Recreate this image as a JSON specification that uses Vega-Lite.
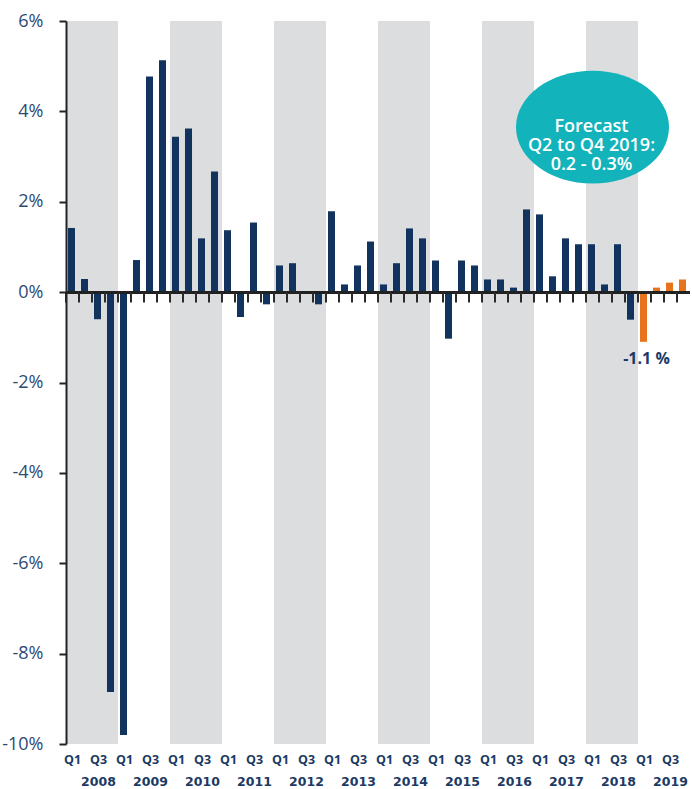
{
  "$schema": "https://vega.github.io/schema/vega-lite/v6.json",
  "width": 624,
  "height": 723,
  "autosize": {"type": "none"},
  "padding": {"left": 66, "top": 21, "right": 2, "bottom": 45},
  "background": "white",
  "config": {
    "view": {"stroke": null},
    "font": "Open Sans",
    "axisX": {"domain": false, "ticks": false, "tickSize": 0, "labelAngle": 0, "labelFontWeight": "bold", "labelFontSize": 12.5, "labelColor": "#1d3a63", "labelOverlap": false, "grid": false, "labelBound": false},
    "axisY": {"grid": false}
  },
  "data": {
    "values": [
      {"q": "2008 Q1", "year": 2008, "v": 1.42, "period": "2008-2018"},
      {"q": "2008 Q2", "year": 2008, "v": 0.29, "period": "2008-2018"},
      {"q": "2008 Q3", "year": 2008, "v": -0.6, "period": "2008-2018"},
      {"q": "2008 Q4", "year": 2008, "v": -8.85, "period": "2008-2018"},
      {"q": "2009 Q1", "year": 2009, "v": -9.8, "period": "2008-2018"},
      {"q": "2009 Q2", "year": 2009, "v": 0.71, "period": "2008-2018"},
      {"q": "2009 Q3", "year": 2009, "v": 4.77, "period": "2008-2018"},
      {"q": "2009 Q4", "year": 2009, "v": 5.13, "period": "2008-2018"},
      {"q": "2010 Q1", "year": 2010, "v": 3.44, "period": "2008-2018"},
      {"q": "2010 Q2", "year": 2010, "v": 3.62, "period": "2008-2018"},
      {"q": "2010 Q3", "year": 2010, "v": 1.19, "period": "2008-2018"},
      {"q": "2010 Q4", "year": 2010, "v": 2.67, "period": "2008-2018"},
      {"q": "2011 Q1", "year": 2011, "v": 1.37, "period": "2008-2018"},
      {"q": "2011 Q2", "year": 2011, "v": -0.55, "period": "2008-2018"},
      {"q": "2011 Q3", "year": 2011, "v": 1.54, "period": "2008-2018"},
      {"q": "2011 Q4", "year": 2011, "v": -0.27, "period": "2008-2018"},
      {"q": "2012 Q1", "year": 2012, "v": 0.59, "period": "2008-2018"},
      {"q": "2012 Q2", "year": 2012, "v": 0.64, "period": "2008-2018"},
      {"q": "2012 Q3", "year": 2012, "v": 0, "period": "2008-2018"},
      {"q": "2012 Q4", "year": 2012, "v": -0.27, "period": "2008-2018"},
      {"q": "2013 Q1", "year": 2013, "v": 1.79, "period": "2008-2018"},
      {"q": "2013 Q2", "year": 2013, "v": 0.17, "period": "2008-2018"},
      {"q": "2013 Q3", "year": 2013, "v": 0.59, "period": "2008-2018"},
      {"q": "2013 Q4", "year": 2013, "v": 1.12, "period": "2008-2018"},
      {"q": "2014 Q1", "year": 2014, "v": 0.17, "period": "2008-2018"},
      {"q": "2014 Q2", "year": 2014, "v": 0.64, "period": "2008-2018"},
      {"q": "2014 Q3", "year": 2014, "v": 1.41, "period": "2008-2018"},
      {"q": "2014 Q4", "year": 2014, "v": 1.19, "period": "2008-2018"},
      {"q": "2015 Q1", "year": 2015, "v": 0.7, "period": "2008-2018"},
      {"q": "2015 Q2", "year": 2015, "v": -1.03, "period": "2008-2018"},
      {"q": "2015 Q3", "year": 2015, "v": 0.7, "period": "2008-2018"},
      {"q": "2015 Q4", "year": 2015, "v": 0.59, "period": "2008-2018"},
      {"q": "2016 Q1", "year": 2016, "v": 0.28, "period": "2008-2018"},
      {"q": "2016 Q2", "year": 2016, "v": 0.28, "period": "2008-2018"},
      {"q": "2016 Q3", "year": 2016, "v": 0.1, "period": "2008-2018"},
      {"q": "2016 Q4", "year": 2016, "v": 1.83, "period": "2008-2018"},
      {"q": "2017 Q1", "year": 2017, "v": 1.72, "period": "2008-2018"},
      {"q": "2017 Q2", "year": 2017, "v": 0.35, "period": "2008-2018"},
      {"q": "2017 Q3", "year": 2017, "v": 1.19, "period": "2008-2018"},
      {"q": "2017 Q4", "year": 2017, "v": 1.06, "period": "2008-2018"},
      {"q": "2018 Q1", "year": 2018, "v": 1.06, "period": "2008-2018"},
      {"q": "2018 Q2", "year": 2018, "v": 0.17, "period": "2008-2018"},
      {"q": "2018 Q3", "year": 2018, "v": 1.06, "period": "2008-2018"},
      {"q": "2018 Q4", "year": 2018, "v": -0.61, "period": "2008-2018"},
      {"q": "2019 Q1", "year": 2019, "v": -1.1, "period": "2019"},
      {"q": "2019 Q2", "year": 2019, "v": 0.1, "period": "2019"},
      {"q": "2019 Q3", "year": 2019, "v": 0.21, "period": "2019"},
      {"q": "2019 Q4", "year": 2019, "v": 0.28, "period": "2019"}
    ]
  },
  "layer": [
    {
      "transform": [{"filter": "datum.year % 2 == 0"}],
      "mark": {"type": "rect", "color": "#dcdddf"},
      "encoding": {
        "x": {
          "field": "q", "type": "ordinal",
          "scale": {"type": "band", "paddingInner": 0, "paddingOuter": 0},
          "axis": {"title": null, "orient": "bottom", "labelExpr": "slice(datum.value, 5) == 'Q3' ? slice(datum.value, 0, 4) : ''", "labelDx": -9, "labelPadding": 31, "labelFont": "DejaVu Sans", "labelFontSize": 12.5}
        },
        "y": {
          "datum": 6, "type": "quantitative", "title": null,
          "scale": {"domain": [-10, 6], "nice": false, "zero": false},
          "axis": {"values": [-10, -8, -6, -4, -2, 0, 2, 4, 6], "labelExpr": "datum.value + '%'", "labelFontSize": 18, "labelColor": "#2d4a73", "labelFont": "Open Sans", "tickColor": "#222222", "tickWidth": 2, "tickSize": 7, "domainColor": "#222222", "domainWidth": 2, "labelPadding": 16, "zindex": 1}
        },
        "y2": {"datum": -10}
      }
    },
    {
      "mark": {"type": "bar", "width": {"band": 0.54}, "xOffset": -1},
      "encoding": {
        "x": {
          "field": "q", "type": "ordinal",
          "scale": {"type": "band", "paddingInner": 0, "paddingOuter": 0},
          "axis": {"title": null, "orient": "bottom", "labelExpr": "(slice(datum.value, 5) == 'Q1' || slice(datum.value, 5) == 'Q3') ? slice(datum.value, 5) : ''", "labelDx": -2, "labelPadding": 9}
        },
        "y": {"field": "v", "type": "quantitative", "title": null},
        "y2": {"datum": 0},
        "color": {"field": "period", "type": "nominal", "legend": null, "scale": {"domain": ["2008-2018", "2019"], "range": ["#12335e", "#e8731f"]}}
      }
    },
    {
      "mark": {"type": "rule", "color": "#222222", "strokeWidth": 2},
      "encoding": {"y": {"datum": 0, "type": "quantitative", "title": null}}
    },
    {
      "mark": {"type": "rule", "color": "#2b2b2b", "strokeWidth": 2},
      "encoding": {
        "x": {"field": "q", "type": "ordinal", "bandPosition": 0, "axis": null},
        "y": {"datum": 0, "type": "quantitative", "title": null},
        "y2": {"datum": -0.23}
      }
    },
    {
      "transform": [{"filter": "datum.q == '2019 Q1'"}],
      "mark": {"type": "text", "fontSize": 16, "fontWeight": "bold", "color": "#1b3a66", "baseline": "middle", "align": "center", "dy": 17, "dx": 2},
      "encoding": {
        "x": {"field": "q", "type": "ordinal", "bandPosition": 0.5, "axis": null},
        "y": {"field": "v", "type": "quantitative", "title": null},
        "text": {"value": "-1.1 %"}
      }
    },
    {
      "data": {"values": [{"q": "2018 Q1", "y": 3.65, "label": "Forecast\nQ2 to Q4 2019:\n0.2 - 0.3%"}]},
      "layer": [
        {
          "mark": {"type": "point", "filled": true, "opacity": 1, "color": "#12b3bb", "strokeWidth": 0, "size": 23409, "shape": "M -1 0 A 1 0.737 0 1 0 1 0 A 1 0.737 0 1 0 -1 0 Z"},
          "encoding": {
            "x": {"field": "q", "type": "ordinal", "bandPosition": 0.5, "axis": null},
            "y": {"field": "y", "type": "quantitative", "title": null}
          }
        },
        {
          "mark": {"type": "text", "fontSize": 18, "fontWeight": 600, "color": "white", "lineBreak": "\n", "lineHeight": 19, "baseline": "middle", "align": "center", "dx": -1},
          "encoding": {
            "x": {"field": "q", "type": "ordinal", "bandPosition": 0.5, "axis": null},
            "y": {"field": "y", "type": "quantitative", "title": null},
            "text": {"field": "label"}
          }
        }
      ]
    }
  ],
  "resolve": {"axis": {"x": "independent"}}
}
